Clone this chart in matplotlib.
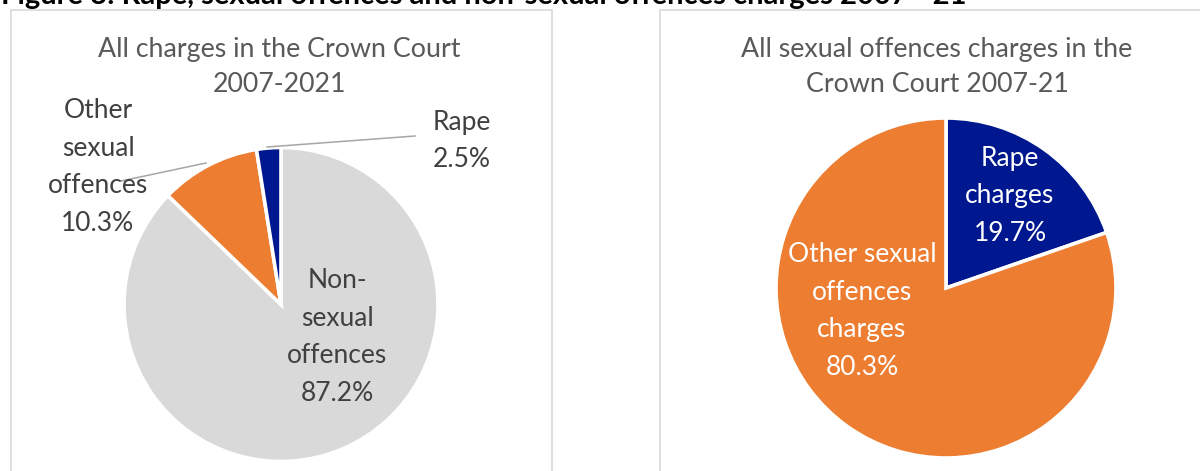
import matplotlib
matplotlib.use("Agg")
import matplotlib.pyplot as plt
from matplotlib.patches import Rectangle

# ---- data ----
left_title = "All charges in the Crown Court\n2007-2021"
left_cats = ["Non-\nsexual\noffences", "Other\nsexual\noffences", "Rape"]
left_values = [87.2, 10.3, 2.5]
left_colors = ["#D9D9D9", "#ED7D31", "#00188F"]

right_title = "All sexual offences charges in the\nCrown Court 2007-21"
right_cats = ["Rape\ncharges", "Other sexual\noffences\ncharges"]
right_values = [19.7, 80.3]
right_colors = ["#00188F", "#ED7D31"]

fig_title = "Figure 3: Rape, sexual offences and non-sexual offences charges 2007 - 21"

W, H = 1200, 471
FONT = "Lato"

fig = plt.figure(figsize=(W / 100, H / 100), dpi=100)
ax = fig.add_axes([0, 0, 1, 1])

def Y(y):
    return H - y

# panel borders
for x0, x1 in [(11, 552), (660, 1260)]:
    ax.add_patch(Rectangle((x0, Y(520)), x1 - x0, 520 - 10, fill=False,
                           edgecolor="#D9D9D9", linewidth=1.2, zorder=0))

wp = dict(edgecolor="white", linewidth=2.6)
ax.pie(left_values, colors=left_colors, startangle=90, counterclock=False,
       center=(281, Y(304.5)), radius=157, wedgeprops=wp, frame=True)
ax.pie(right_values, colors=right_colors, startangle=90, counterclock=False,
       center=(946, Y(288)), radius=170, wedgeprops=wp, frame=True)

ax.set_xlim(0, W)
ax.set_ylim(0, H)
ax.set_aspect("auto")
ax.axis("off")

title_kw = dict(ha="center", va="center", fontsize=19.3, color="#595959",
                family=FONT, linespacing=1.53)
ax.text(279, Y(67), left_title, **title_kw)
ax.text(937, Y(67), right_title, **title_kw)

lab_kw = dict(ha="center", va="center", fontsize=19, family=FONT, linespacing=1.62)
# left labels
left_pos = [(337, 337), (98, 167), (462, 141)]
for cat, val, (x, y) in zip(left_cats, left_values, left_pos):
    ax.text(x, Y(y), f"{cat}\n{val:.1f}%", color="#404040", **lab_kw)
# right labels
right_pos = [(1010, 196), (862, 311)]
for cat, val, (x, y) in zip(right_cats, right_values, right_pos):
    ax.text(x, Y(y), f"{cat}\n{val:.1f}%", color="white", **lab_kw)

# leader lines
ax.plot([267, 415], [Y(147), Y(136)], color="#A6A6A6", linewidth=1.1)
ax.plot([206, 121], [Y(163), Y(181)], color="#A6A6A6", linewidth=1.1)

# figure title, clipped at the top edge as in the source
ax.text(1, Y(4), fig_title, ha="left", va="baseline", fontsize=21,
        fontweight="bold", family=FONT, color="black", clip_on=False)

fig.savefig("out.png", dpi=100)
